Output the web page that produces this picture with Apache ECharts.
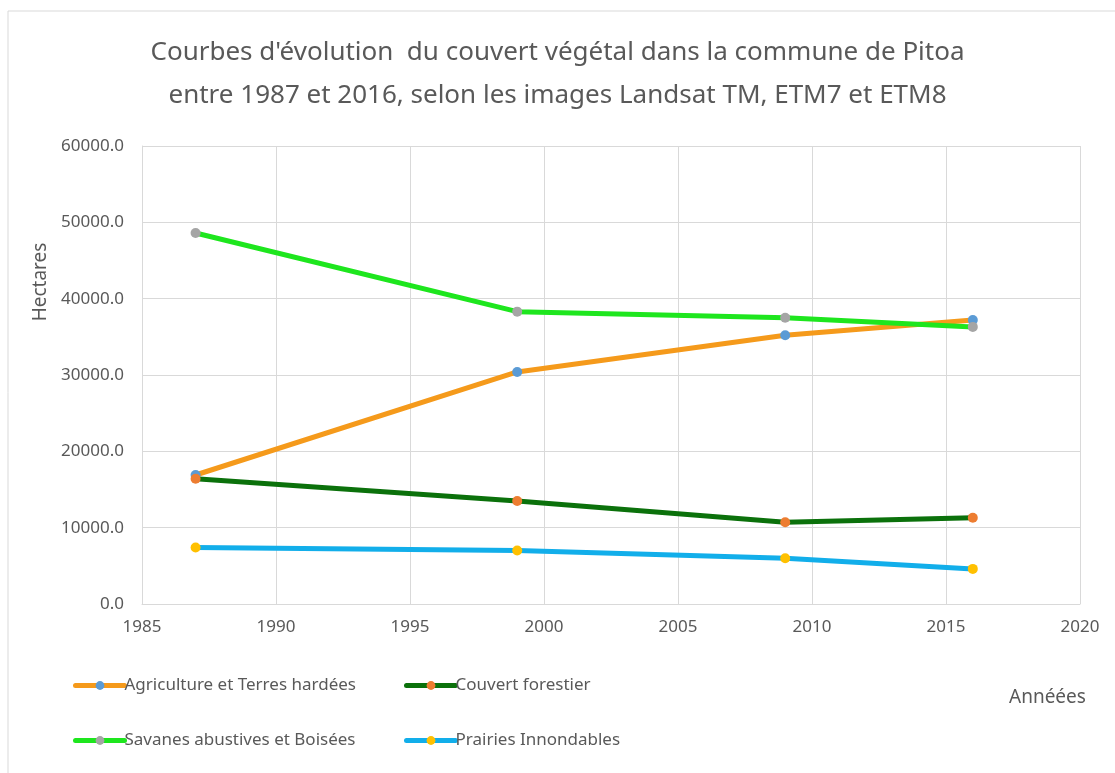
<!DOCTYPE html>
<html>
<head>
<meta charset="utf-8">
<script src="https://cdn.jsdelivr.net/npm/echarts@6/dist/echarts.min.js"></script>
<style>
  html, body { margin: 0; padding: 0; background: #fff; }
  #courbes { width: 1115px; height: 773px; }
</style>
</head>
<body>
<div id="courbes"></div>
<script>
// données
var annees = [1987, 1999, 2009, 2016];
var agriculture = [16900, 30400, 35200, 37200];
var couvertForestier = [16400, 13500, 10700, 11300];
var savanes = [48600, 38300, 37500, 36300];
var prairies = [7400, 7000, 6000, 4600];

var noms = ['Agriculture et Terres hardées', 'Couvert forestier', 'Savanes abustives et Boisées', 'Prairies Innondables'];
var couleursLigne = ['#f59a1b', '#0b710b', '#1ee61e', '#12aeea'];
var couleursPoint = ['#5b9bd5', '#ed7d31', '#a5a5a5', '#ffc000'];
var valeurs = [agriculture, couvertForestier, savanes, prairies];

function courbes() {
    var myChart = echarts.init(document.getElementById('courbes'));
    var police = 'Noto Sans';
    var gris = '#595959';

    var series = noms.map(function (nom, i) {
        return {
            name: nom,
            type: 'line',
            data: annees.map(function (a, j) { return [a, valeurs[i][j]]; }),
            symbol: 'circle',
            symbolSize: 10,
            lineStyle: { color: couleursLigne[i], width: 5 },
            itemStyle: { color: couleursPoint[i] },
            emphasis: { disabled: true }
        };
    });

    // une légende par case : 2 colonnes, 2 lignes
    var positions = [[68, 672], [399, 672], [68, 727], [399, 727]];
    var legendes = noms.map(function (nom, i) {
        return {
            left: positions[i][0],
            top: positions[i][1],
            data: [nom],
            itemWidth: 49,
            itemHeight: 11,
            lineStyle: { width: 5, cap: 'round' },
            textStyle: { color: gris, fontSize: 17, fontFamily: police, padding: [0, 0, 0, -5] }
        };
    });

    var option = {
        animation: false,
        title: [{
            text: "Courbes d'évolution  du couvert végétal dans la commune de Pitoa\nentre 1987 et 2016, selon les images Landsat TM, ETM7 et ETM8",
            left: 'center',
            top: 26,
            textStyle: { color: gris, fontSize: 26, fontWeight: 'normal', fontFamily: police, lineHeight: 43 }
        }, {
            text: 'Annéées',
            left: 1004,
            top: 683,
            textStyle: { color: gris, fontSize: 19, fontWeight: 'normal', fontFamily: police }
        }],
        graphic: [{
            type: 'rect',
            shape: { x: 8, y: 11, width: 1130, height: 790 },
            style: { fill: 'none', stroke: '#d9d9d9', lineWidth: 1 },
            silent: true
        }],
        legend: legendes,
        grid: { left: 142, right: 35, top: 146, bottom: 169 },
        xAxis: {
            type: 'value',
            min: 1985,
            max: 2020,
            interval: 5,
            axisLine: { show: true, lineStyle: { color: '#d9d9d9' } },
            axisTick: { show: false },
            splitLine: { show: true, lineStyle: { color: '#d9d9d9' } },
            axisLabel: {
                color: gris, fontSize: 17, fontFamily: police, margin: 15,
                formatter: function (v) { return String(v); }
            }
        },
        yAxis: {
            type: 'value',
            min: 0,
            max: 60000,
            interval: 10000,
            name: 'Hectares',
            nameLocation: 'middle',
            nameGap: 88,
            nameTextStyle: { color: gris, fontSize: 19, fontFamily: police, padding: [0, 0, 0, 186] },
            axisLine: { show: true, lineStyle: { color: '#d9d9d9' } },
            axisTick: { show: false },
            splitLine: { show: true, lineStyle: { color: '#d9d9d9' } },
            axisLabel: {
                color: gris, fontSize: 17, fontFamily: police, margin: 18,
                formatter: function (v) { return v.toFixed(1); }
            }
        },
        series: series
    };

    myChart.setOption(option);
    window.addEventListener('resize', function () {
        myChart.resize();
    });
}

courbes();
</script>
</body>
</html>
